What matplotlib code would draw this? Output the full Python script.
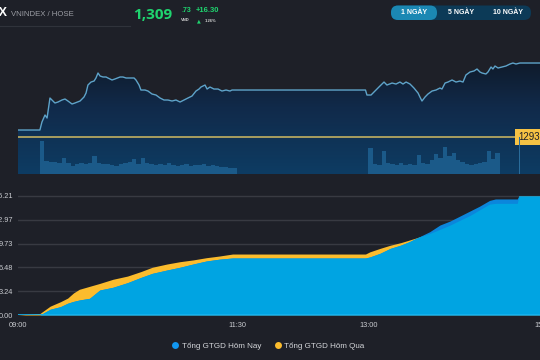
import numpy as np
import matplotlib
matplotlib.use('Agg')
import matplotlib.pyplot as plt
from matplotlib.colors import LinearSegmentedColormap
from matplotlib.patches import FancyBboxPatch
from matplotlib.lines import Line2D

plt.rcParams['font.family'] = ['Liberation Sans', 'DejaVu Sans']

BG = '#1e2028'

# --- price (VNINDEX), minutes after 09:00 ---
ref_price = 1293.43
price_t = [0, 15, 16.4, 18.5, 19.9, 21.9, 25.3, 27.4, 30.1, 32.2, 34.2, 37.0, 39.0, 42.5, 45.2,
           46.6, 47.9, 50.0, 52.1, 53.4, 54.8, 56.2, 58.2, 60.3, 61.6, 64.4, 66.4, 69.9, 71.9,
           74.0, 76.7, 79.5, 80.8, 82.9, 84.2, 87.0, 89.0, 91.8, 94.5, 97.3, 100.0, 102.7, 105.5,
           108.2, 111.0, 113.7, 116.4, 119.2, 121.9, 124.0, 125.3, 128.1, 129.5, 131.5, 134.2,
           137.0, 139.7, 142.5, 145.2, 146.6, 238, 239.0, 241.8, 244.5, 247.9, 250.7, 252.7,
           256.2, 258.9, 261.6, 263.7, 265.8, 268.5, 271.2, 274.0, 275.3, 276.7, 278.8, 280.8,
           283.6, 286.3, 289.0, 290.4, 292.5, 294.5, 297.3, 300.0, 302.7, 304.8, 306.8, 309.6,
           312.3, 314.4, 316.4, 317.8, 320.5, 321.9, 324.0, 325.3, 326.7, 328.8, 331.5, 334.2,
           337.0, 339.0, 341.1, 343.8, 360]
price = [1294.97, 1294.97, 1296.73, 1298.28, 1297.61, 1302.02, 1300.92, 1301.14, 1301.58,
         1301.80, 1301.36, 1300.70, 1300.92, 1301.36, 1302.24, 1303.12, 1304.88, 1305.54,
         1305.76, 1306.43, 1307.53, 1306.87, 1306.65, 1306.65, 1306.43, 1305.99, 1306.21,
         1306.65, 1306.65, 1306.43, 1306.43, 1306.43, 1305.99, 1304.88, 1303.78, 1303.78,
         1303.56, 1302.90, 1302.68, 1302.02, 1301.58, 1301.58, 1301.36, 1301.58, 1301.14,
         1301.58, 1302.02, 1302.46, 1303.56, 1304.00, 1304.44, 1304.88, 1304.00, 1304.44,
         1304.00, 1304.00, 1303.56, 1303.78, 1303.56, 1303.78, 1303.78, 1302.68, 1302.68,
         1303.56, 1304.66, 1305.54, 1304.88, 1305.32, 1305.10, 1305.54, 1305.10, 1305.54,
         1305.10, 1304.22, 1303.12, 1302.24, 1301.36, 1302.24, 1302.90, 1303.56, 1303.78,
         1304.22, 1304.00, 1305.32, 1305.54, 1305.99, 1305.54, 1305.76, 1305.54, 1307.09,
         1307.75, 1307.97, 1308.41, 1307.75, 1307.53, 1307.31, 1307.75, 1308.85, 1308.41,
         1309.07, 1308.63, 1308.85, 1309.07, 1309.51, 1309.73, 1309.51, 1309.73, 1309.73]

# volume per 3-minute bin
vol_am_t = list(range(15, 150, 3))
vol_am = [9.9, 3.9, 3.6, 3.6, 3.3, 4.8, 3.3, 2.4, 3.0, 3.3, 3.0, 3.3, 5.4, 3.3, 3.0, 3.0, 2.7,
          2.4, 3.0, 3.3, 3.6, 4.5, 3.0, 4.8, 3.3, 3.0, 2.7, 3.0, 2.7, 3.3, 2.7, 2.4, 2.7, 3.0,
          2.4, 2.7, 2.7, 3.0, 2.4, 2.7, 2.4, 2.1, 2.1, 1.8, 1.8]
vol_pm_t = list(range(240, 330, 3))
vol_pm = [7.8, 3.0, 2.7, 6.9, 3.3, 3.0, 2.7, 3.3, 2.7, 3.0, 2.7, 5.7, 3.3, 3.0, 4.2, 6.0, 4.8,
          8.1, 5.4, 6.3, 4.2, 3.6, 3.0, 2.7, 3.0, 3.3, 3.6, 6.9, 4.5, 6.3]
vol_atc_t = 343.5
vol_atc = 11.0

# --- cumulative trading value ---
val_t = [0, 15, 22, 29, 34, 38, 42, 49, 56, 65, 75, 84, 92, 102, 111, 120, 129, 138, 147, 150,
         238, 241, 248, 255, 262, 268, 274, 282, 289, 296, 303, 310, 316, 323, 327, 342, 343, 360]
today = [0, 0, 0.78, 1.13, 1.6, 1.85, 2.04, 2.27, 3.4, 3.77, 4.4, 5.1, 5.67, 6.12, 6.5, 6.94,
         7.35, 7.6, 7.76, 7.76, 7.76, 7.9, 8.4, 9.07, 9.5, 9.98, 10.57, 11.34, 12.25, 12.8,
         13.5, 14.2, 14.8, 15.6, 15.8, 15.8, 16.21, 16.21]
yesterday = [0, 0.2, 1.2, 1.8, 2.3, 3.0, 3.5, 3.9, 4.3, 4.86, 5.3, 5.9, 6.5, 6.94, 7.26, 7.5,
             7.8, 8.03, 8.3, 8.3, 8.3, 8.6, 9.07, 9.5, 9.84, 10.2, 10.57, 11.1, 11.66, 12.25,
             12.93, 13.6, 14.3, 15.1, 15.2, 15.2, 16.21, 16.21]
y_ticks = [0.00, 3.24, 6.48, 9.73, 12.97, 16.21]
x_ticks = [0, 150, 240, 360]
x_labels = ['09:00', '11:30', '13:00', '15:00']

fig = plt.figure(figsize=(5.4, 3.6), dpi=100, facecolor=BG)
W, H = 540.0, 360.0
pxmin = 1.46  # pixels per minute
xmax = 370

# ---- top panel: price ----
ax1 = fig.add_axes([18 / W, 1 - 174 / H, pxmin * xmax / W, 134 / H])
ax1.set_facecolor(BG)
ymin, ymax = 1285.28, 1314.8
ax1.set_xlim(0, xmax)
ax1.set_ylim(ymin, ymax)
ax1.axis('off')

poly = ax1.fill_between(price_t, price, ymin, facecolor='none', edgecolor='none')
cmap = LinearSegmentedColormap.from_list('g', ['#0d3c63', '#112a4a', '#0e131b'])
grad = np.linspace(0, 1, 256).reshape(-1, 1)
im = ax1.imshow(grad, extent=[0, xmax, ymin, ymax], origin='lower', aspect='auto',
                cmap=cmap, zorder=1)
im.set_clip_path(poly.get_paths()[0], transform=ax1.transData)
ax1.plot(price_t, price, color='#5ea3c9', lw=1.0, zorder=3)
ax1.axhline(ref_price, color='#a99d5f', lw=1.4, zorder=4)
ax1.text(343, ref_price, '1293.43', ha='left', va='center', fontsize=7, color='#1e2028',
         zorder=6, bbox=dict(boxstyle='square,pad=0.35', fc='#f6c244', ec='none'))

axv = ax1.twinx()
axv.set_ylim(0, 40)
axv.set_xlim(0, xmax)
axv.axis('off')
axv.bar(vol_am_t, vol_am, width=3, align='edge', color='#1b5a89', lw=0)
axv.bar(vol_pm_t, vol_pm, width=3, align='edge', color='#1b5a89', lw=0)
axv.bar([vol_atc_t], [vol_atc], width=0.8, color='#2a6c9a', lw=0)

# ---- bottom panel: cumulative value ----
ax2 = fig.add_axes([18 / W, 1 - 315 / H, pxmin * xmax / W, 127 / H])
ax2.set_facecolor(BG)
ax2.set_xlim(0, xmax)
ax2.set_ylim(0, 17.29)
for s in ax2.spines.values():
    s.set_visible(False)
ax2.set_yticks(y_ticks)
ax2.set_yticklabels(['%.2f' % v for v in y_ticks])
ax2.set_xticks(x_ticks)
ax2.set_xticklabels(x_labels)
ax2.tick_params(length=0, colors='#c9cbd0', labelsize=5.3)
ax2.tick_params(axis='y', pad=3.6)
ax2.tick_params(axis='x', pad=5)
ax2.grid(axis='y', color='#383a42', lw=1)
ax2.set_axisbelow(True)

c_today = '#0b86dc'
c_yest = '#fbbc2d'
c_both = '#00a4e2'
ax2.fill_between(val_t, yesterday, 0, color=c_yest, lw=0, zorder=2)
ax2.fill_between(val_t, today, 0, color=c_today, lw=0, zorder=2)
ax2.fill_between(val_t, np.minimum(today, yesterday), 0, color=c_both, lw=0, zorder=3)
ax2.axhline(0, color='#18b4f0', lw=1.2, zorder=4)

handles = [Line2D([], [], ls='none', marker='o', ms=5, mfc='#1196f0', mec='none'),
           Line2D([], [], ls='none', marker='o', ms=5, mfc=c_yest, mec='none')]
fig.legend(handles, ['Tổng GTGD Hôm Nay', 'Tổng GTGD Hôm Qua'], loc='center',
           bbox_to_anchor=(268 / W, 1 - 346 / H), ncol=2, frameon=False, fontsize=5.8,
           labelcolor='#d4d6da', handletextpad=0.3, columnspacing=1.6, handlelength=1)

# ---- header overlay (pixel coordinates) ----
ov = fig.add_axes([0, 0, 1, 1], zorder=10)
ov.set_xlim(0, W)
ov.set_ylim(H, 0)
ov.axis('off')
ov.patch.set_alpha(0)

ov.text(8, 13, 'VNINDEX', ha='right', va='center', fontsize=9, weight='bold', color='white')
ov.text(11, 14, 'VNINDEX / HOSE', ha='left', va='center', fontsize=5.6, color='#9b9da4')
ov.plot([0, 130], [26, 26], color='#30333b', lw=0.8)

green = '#1fd46f'
ov.text(133, 15, '1,309', ha='left', va='center', fontsize=11, weight='bold', color=green,
        family=['Open Sans', 'DejaVu Sans'])
ov.text(181, 10, '.73', ha='left', va='center', fontsize=5, weight='bold', color=green)
ov.text(181, 20, 'VND', ha='left', va='center', fontsize=3, weight='bold', color='#d0d0d0')
ov.text(196, 10, '+16.30', ha='left', va='center', fontsize=5.5, weight='bold', color=green)
ov.text(197, 20.5, '▲', ha='left', va='center', fontsize=3.5, color=green,
        family=['DejaVu Sans'])
ov.text(205, 20.5, '1.26%', ha='left', va='center', fontsize=3, weight='bold', color='#d0d0d0')

ov.add_patch(FancyBboxPatch((391, 5.5), 140, 14.5, boxstyle='round,pad=0,rounding_size=7',
                            fc='#0c3a57', ec='none'))
ov.add_patch(FancyBboxPatch((391, 5.5), 46, 14.5, boxstyle='round,pad=0,rounding_size=7',
                            fc='#1b88b3', ec='none'))
for cx, lab in [(414, '1 NGÀY'), (461, '5 NGÀY'), (508, '10 NGÀY')]:
    ov.text(cx, 13, lab, ha='center', va='center', fontsize=5, weight='bold', color='white')

fig.savefig('out.png', dpi=100, facecolor=BG)
